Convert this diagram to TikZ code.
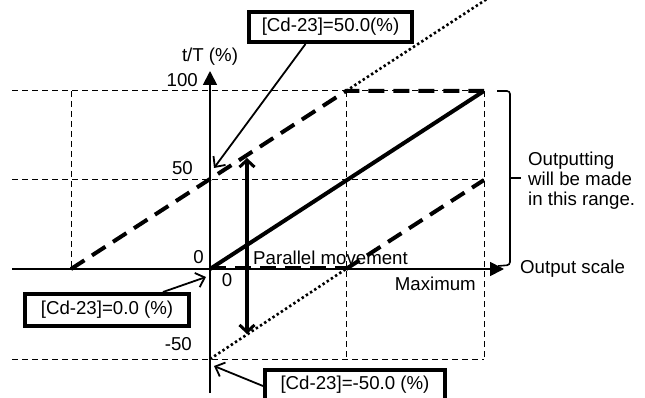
\documentclass[tikz,border=0pt]{standalone}
\usepackage{fontspec}
\setmainfont{Liberation Sans}
\usetikzlibrary{arrows.meta}
\begin{document}
\begin{tikzpicture}[x=1pt,y=-1pt,
  lbl/.style={inner sep=0pt, font=\fontsize{18.67}{20}\selectfont},
  gridline/.style={line width=1pt, dash pattern=on 6pt off 4pt},
  thickline/.style={line width=4pt},
  thickdash/.style={line width=4pt, dash pattern=on 16pt off 9pt},
  dotline/.style={line width=2.6pt, dash pattern=on 2.4pt off 2.6pt},
  axisline/.style={line width=1.8pt},
  callout/.style={draw, line width=4pt, fill=white, inner sep=0pt, font=\fontsize{18.67}{20}\selectfont},
  calloutarrow/.style={line width=1.8pt, -{Straight Barb[length=8pt,width=15pt,line width=1.8pt]}},
  axisarrow/.style={axisline, -{Triangle[length=14pt,width=14pt]}},
  movearrow/.style={line width=4pt, {Straight Barb[length=7pt,width=15pt,line width=3pt]}-{Straight Barb[length=7pt,width=15pt,line width=3pt]}},
  bracket/.style={line width=1.6pt, rounded corners=3pt}
]
\clip (0,0) rectangle (645,398);
\fill[white] (0,0) rectangle (645,398);

% key coordinates
\coordinate (O) at (210,269);
\coordinate (ytop) at (210,71);
\coordinate (ybot) at (210,393);
\coordinate (xl) at (12,269);
\coordinate (xr) at (504,269);
\coordinate (L100) at (12,91);
\coordinate (R100) at (484,91);
\coordinate (L50) at (12,180);
\coordinate (R50) at (484,180);
\coordinate (Lm50) at (12,359);
\coordinate (Rm50) at (484,359);
\coordinate (Xm) at (346,91);
\coordinate (Xmb) at (346,359);
\coordinate (Xmax) at (484,91);
\coordinate (Xmaxb) at (484,359);
\coordinate (Xl) at (71,91);
\coordinate (Xlb) at (71,269);
\coordinate (Xmaxis) at (346,269);
\coordinate (Ym50) at (210,359);
\coordinate (dotend) at (490,-3);
\coordinate (O2) at (210,268);
\coordinate (Xmaxis2) at (346,268);

% grid
\draw[gridline] (L100) -- (R100);
\draw[gridline] (L50) -- (R50);
\draw[gridline] (Lm50) -- (Rm50);
\draw[gridline] (Xl) -- (Xlb);
\draw[gridline] (Xm) -- (Xmb);
\draw[gridline] (Xmax) -- (Xmaxb);

% axes
\draw[axisarrow] (ybot) -- (ytop);
\draw[axisarrow] (xl) -- (xr);

% characteristic lines
\draw[thickline] (O) -- (Xmax);
\draw[thickdash] (Xlb) -- (Xm) -- (Xmax);
\draw[dotline] (Xm) -- (dotend);
\draw[dotline] (Ym50) -- (Xmaxis);
\draw[thickdash] (Xmaxis) -- (R50);
\draw[thickdash] (O2) -- (Xmaxis2);

% parallel movement arrow
\coordinate (mvtop) at (247,158);
\coordinate (mvbot) at (247,334);
\draw[movearrow] (mvbot) -- (mvtop);

% labels
\node[lbl] (ylabel) at (210,57) {t/T (\%)};
\node[lbl, anchor=east] (l100) at (198,80) {100};
\node[lbl, anchor=east] (l50) at (193,168) {50};
\node[lbl, anchor=east] (l0) at (204,257) {0};
\node[lbl, anchor=east] (lm50) at (192,344) {-50};
\node[lbl] (x0) at (227,280) {0};
\node[lbl, anchor=west] (pm) at (253,258) {Parallel movement};
\node[lbl, anchor=east] (maxl) at (476,284) {Maximum};
\node[lbl, anchor=west] (outsc) at (520,269) {Output scale};
\node[lbl, anchor=west, align=left] (range) at (528,181) {Outputting\\will be made\\in this range.};

% bracket
\coordinate (bt0) at (497,91);
\coordinate (bt1) at (510,91);
\coordinate (bb1) at (510,265);
\coordinate (bb0) at (498,266);
\coordinate (bm0) at (510,178);
\coordinate (bm1) at (521,178);
\draw[bracket] (bt0) -- (bt1) -- (bb1) -- (bb0);
\draw[line width=1.6pt] (bm0) -- (bm1);

% callouts
\node[callout, minimum width=163pt, minimum height=30pt] (c50) at (330.5,27) {[Cd-23]=50.0(\%)};
\node[callout, minimum width=164pt, minimum height=32pt] (c0) at (107,310) {[Cd-23]=0.0 (\%)};
\node[callout, minimum width=180pt, minimum height=30pt] (cm50) at (355,385) {[Cd-23]=-50.0 (\%)};

\coordinate (t50) at (214,168);
\coordinate (t0) at (206,277);
\coordinate (tm50) at (214,366);
\draw[calloutarrow] ([xshift=-25pt]c50.south) -- (t50);
\draw[calloutarrow] ([xshift=56pt]c0.north) -- (t0);
\draw[calloutarrow] ([yshift=-1pt]cm50.west) -- (tm50);
\end{tikzpicture}
\end{document}
